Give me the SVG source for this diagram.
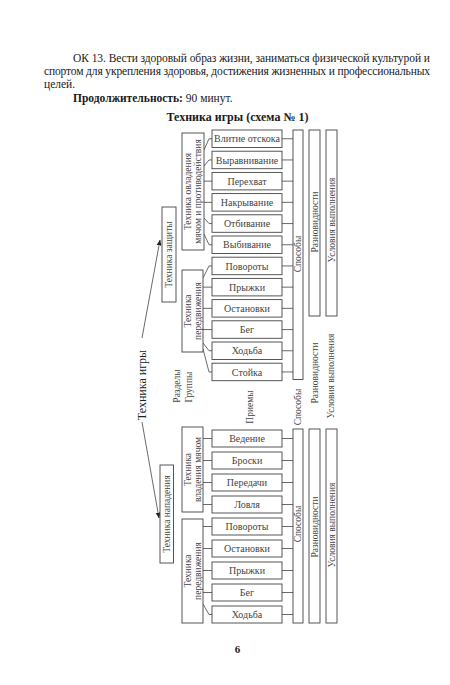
<svg xmlns="http://www.w3.org/2000/svg" width="450" height="685" viewBox="0 0 450 685">
<style>
text{font-family:"Liberation Serif","Times New Roman",serif;fill:#1a1a1a}
.p{font-size:11.5px}
.b{font-weight:bold}
.box{fill:#fff;stroke:#444;stroke-width:0.9}
.it{font-size:10px;fill:#444;text-anchor:middle}
.rt{font-size:9.5px;fill:#444;text-anchor:middle}
.ln{fill:none;stroke:#444;stroke-width:0.8}
</style>
<defs>
<marker id="ah" viewBox="0 0 10 10" refX="9" refY="5" markerWidth="6" markerHeight="6" orient="auto" markerUnits="userSpaceOnUse">
<path d="M0,1 L10,5 L0,9 z" fill="#222"/>
</marker>
</defs>
<rect width="450" height="685" fill="#fff"/>
<g id="header">
<text class="p" x="73" y="62" textLength="357" lengthAdjust="spacing">ОК 13. Вести здоровый образ жизни, заниматься физической культурой и</text>
<text class="p" x="44" y="75" textLength="386" lengthAdjust="spacing">спортом для укрепления здоровья, достижения жизненных и профессиональных</text>
<text class="p" x="44" y="88">целей.</text>
<text class="p" x="73" y="101.5"><tspan class="b">Продолжительность:</tspan> 90 минут.</text>
<text class="p b" x="237.5" y="121" text-anchor="middle" style="font-size:12px">Техника игры (схема № 1)</text>
</g>
<g id="connectors">
<path class="ln" d="M142,338 L160,240" marker-end="url(#ah)"/>
<path class="ln" d="M142,422 L159,518" marker-end="url(#ah)"/>
<polyline class="ln" points="204,150 209,138.75 212,138.75"/>
<polyline class="ln" points="204,166 209,159.95 212,159.95"/>
<polyline class="ln" points="204,181.15 212,181.15"/>
<polyline class="ln" points="204,202.35 212,202.35"/>
<polyline class="ln" points="204,218 209,223.55 212,223.55"/>
<polyline class="ln" points="204,234 209,244.75 212,244.75"/>
<polyline class="ln" points="203,278 209,265.95 212,265.95"/>
<polyline class="ln" points="203,287.15 212,287.15"/>
<polyline class="ln" points="203,308.35 212,308.35"/>
<polyline class="ln" points="203,329.55 212,329.55"/>
<polyline class="ln" points="203,343 209,350.75 212,350.75"/>
<polyline class="ln" points="203,349 209,371.95 212,371.95"/>
<polyline class="ln" points="203,438.5 212,438.5"/>
<polyline class="ln" points="203,460.5 212,460.5"/>
<polyline class="ln" points="203,482.5 212,482.5"/>
<polyline class="ln" points="203,504.5 212,504.5"/>
<polyline class="ln" points="203,526.5 212,526.5"/>
<polyline class="ln" points="203,548.5 212,548.5"/>
<polyline class="ln" points="203,570.5 212,570.5"/>
<polyline class="ln" points="203,592.5 212,592.5"/>
<polyline class="ln" points="203,604 209,614.5 212,614.5"/>
<path class="ln" d="M282,138.75H293M282,159.95H293M282,181.15H293M282,202.35H293M282,223.55H293M282,244.75H293M282,265.95H293M282,287.15H293M282,308.35H293M282,329.55H293M282,350.75H293M282,371.95H293"/>
<path class="ln" d="M282,438.5H293M282,460.5H293M282,482.5H293M282,504.5H293M282,526.5H293M282,548.5H293M282,570.5H293M282,592.5H293M282,614.5H293"/>
</g>
<g id="labels">
<text class="rt" style="font-size:12px;fill:#222" transform="translate(142,385) rotate(-90)" dy="0.35em">Техника игры</text>
<text class="rt" transform="translate(177,386) rotate(-90)" dy="0.35em">Разделы</text>
<text class="rt" transform="translate(189,387) rotate(-90)" dy="0.35em">Группы</text>
<text class="rt" transform="translate(250,407) rotate(-90)" dy="0.35em">Приемы</text>
<text class="rt" transform="translate(298,407) rotate(-90)" dy="0.35em">Способы</text>
<text class="rt" transform="translate(315,373) rotate(-90)" dy="0.35em">Разновидности</text>
<text class="rt" transform="translate(331,376) rotate(-90)" dy="0.35em">Условия выполнения</text>
</g>
<g id="n-zashchita">
<rect class="box" x="162" y="207" width="14" height="95"/>
<text class="rt" transform="translate(169,254.5) rotate(-90)" dy="0.35em">Техника защиты</text>
</g>
<g id="n-napadenie">
<rect class="box" x="160" y="465" width="13.5" height="98"/>
<text class="rt" transform="translate(166.75,514) rotate(-90)" dy="0.35em">Техника нападения</text>
</g>
<g id="n-ovladenie">
<rect class="box" x="182" y="133" width="22" height="117"/>
<text class="rt" transform="translate(188,191.5) rotate(-90)" dy="0.35em">Техника овладения</text>
<text class="rt" transform="translate(198,191.5) rotate(-90)" dy="0.35em">мячом и противодействия</text>
</g>
<g id="n-peredv1">
<rect class="box" x="182" y="270" width="21" height="82"/>
<text class="rt" transform="translate(188,311) rotate(-90)" dy="0.35em">Техника</text>
<text class="rt" transform="translate(198,311) rotate(-90)" dy="0.35em">передвижения</text>
</g>
<g id="n-vladenie">
<rect class="box" x="182" y="427" width="21" height="85"/>
<text class="rt" transform="translate(188,469.5) rotate(-90)" dy="0.35em">Техника</text>
<text class="rt" transform="translate(198,469.5) rotate(-90)" dy="0.35em">владения мячом</text>
</g>
<g id="n-peredv2">
<rect class="box" x="182" y="519" width="21" height="104"/>
<text class="rt" transform="translate(188,571) rotate(-90)" dy="0.35em">Техника</text>
<text class="rt" transform="translate(198,571) rotate(-90)" dy="0.35em">передвижения</text>
</g>
<g id="items-top">
<g id="i1"><rect class="box" x="212" y="130" width="70" height="17.5"/><text class="it" x="247" y="142.3">Влитие отскока</text></g>
<g id="i2"><rect class="box" x="212" y="151.2" width="70" height="17.5"/><text class="it" x="247" y="163.5">Выравнивание</text></g>
<g id="i3"><rect class="box" x="212" y="172.4" width="70" height="17.5"/><text class="it" x="247" y="184.7">Перехват</text></g>
<g id="i4"><rect class="box" x="212" y="193.6" width="70" height="17.5"/><text class="it" x="247" y="205.9">Накрывание</text></g>
<g id="i5"><rect class="box" x="212" y="214.8" width="70" height="17.5"/><text class="it" x="247" y="227.1">Отбивание</text></g>
<g id="i6"><rect class="box" x="212" y="236" width="70" height="17.5"/><text class="it" x="247" y="248.3">Выбивание</text></g>
<g id="i7"><rect class="box" x="212" y="257.2" width="70" height="17.5"/><text class="it" x="247" y="269.5">Повороты</text></g>
<g id="i8"><rect class="box" x="212" y="278.4" width="70" height="17.5"/><text class="it" x="247" y="290.7">Прыжки</text></g>
<g id="i9"><rect class="box" x="212" y="299.6" width="70" height="17.5"/><text class="it" x="247" y="311.9">Остановки</text></g>
<g id="i10"><rect class="box" x="212" y="320.8" width="70" height="17.5"/><text class="it" x="247" y="333.1">Бег</text></g>
<g id="i11"><rect class="box" x="212" y="342" width="70" height="17.5"/><text class="it" x="247" y="354.3">Ходьба</text></g>
<g id="i12"><rect class="box" x="212" y="363.2" width="70" height="17.5"/><text class="it" x="247" y="375.5">Стойка</text></g>
</g>
<g id="items-bottom">
<g id="j1"><rect class="box" x="212" y="430" width="70" height="17"/><text class="it" x="247" y="442">Ведение</text></g>
<g id="j2"><rect class="box" x="212" y="452" width="70" height="17"/><text class="it" x="247" y="464">Броски</text></g>
<g id="j3"><rect class="box" x="212" y="474" width="70" height="17"/><text class="it" x="247" y="486">Передачи</text></g>
<g id="j4"><rect class="box" x="212" y="496" width="70" height="17"/><text class="it" x="247" y="508">Ловля</text></g>
<g id="j5"><rect class="box" x="212" y="518" width="70" height="17"/><text class="it" x="247" y="530">Повороты</text></g>
<g id="j6"><rect class="box" x="212" y="540" width="70" height="17"/><text class="it" x="247" y="552">Остановки</text></g>
<g id="j7"><rect class="box" x="212" y="562" width="70" height="17"/><text class="it" x="247" y="574">Прыжки</text></g>
<g id="j8"><rect class="box" x="212" y="584" width="70" height="17"/><text class="it" x="247" y="596">Бег</text></g>
<g id="j9"><rect class="box" x="212" y="606" width="70" height="17"/><text class="it" x="247" y="618">Ходьба</text></g>
</g>
<g id="col-sposoby-top"><rect class="box" x="293" y="130" width="10" height="249.5"/><text class="rt" transform="translate(298,254) rotate(-90)" dy="0.35em">Способы</text></g>
<g id="col-raznov-top"><rect class="box" x="309" y="130" width="11" height="186"/><text class="rt" transform="translate(314.5,222) rotate(-90)" dy="0.35em">Разновидности</text></g>
<g id="col-uslov-top"><rect class="box" x="326" y="130" width="11" height="186"/><text class="rt" transform="translate(331.5,220) rotate(-90)" dy="0.35em">Условия выполнения</text></g>
<g id="col-sposoby-bot"><rect class="box" x="293" y="429" width="10" height="194"/><text class="rt" transform="translate(298,524) rotate(-90)" dy="0.35em">Способы</text></g>
<g id="col-raznov-bot"><rect class="box" x="309" y="429" width="11" height="194"/><text class="rt" transform="translate(314.5,527) rotate(-90)" dy="0.35em">Разновидности</text></g>
<g id="col-uslov-bot"><rect class="box" x="326" y="429" width="11" height="194"/><text class="rt" transform="translate(331.5,525) rotate(-90)" dy="0.35em">Условия выполнения</text></g>
<g id="page"><text class="p b" x="237.5" y="653" text-anchor="middle" style="font-size:11px">6</text></g>
</svg>
